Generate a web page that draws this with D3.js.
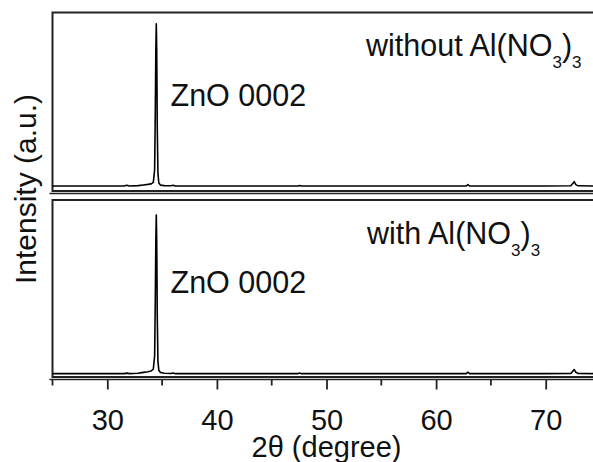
<!DOCTYPE html>
<html>
<head>
<meta charset="utf-8">
<script src="https://cdn.jsdelivr.net/npm/d3@7"></script>
<style>
    body { margin: 0; background: #fff; }
    svg { display: block; }
    text { font-family: "Liberation Sans", Arial, sans-serif; fill: #111; }
</style>
</head>
<body>
<div id="xrd"></div>
<script>
// 2theta positions (degree) shared by both patterns
const twoTheta = [25, 28, 31.5, 31.8, 32.0, 32.8, 33.3, 33.7, 34.0, 34.2, 34.32, 34.38, 34.43, 34.47, 34.51, 34.56, 34.62, 34.7, 34.85, 35.2, 35.8, 36.0, 36.2, 40, 47.4, 47.55, 47.7, 55, 62.75, 62.9, 63.05, 70, 72.3, 72.45, 72.6, 72.75, 72.95, 75]

// intensities (a.u.)
const withoutAl = [.028, .028, .028, .032, .028, .030, .034, .037, .040, .048, .12, .45, .80, .936, .78, .35, .10, .045, .033, .030, .029, .032, .028, .028, .028, .031, .028, .028, .028, .036, .028, .028, .029, .040, .052, .036, .029, .028]
const withAl = [.019, .019, .019, .022, .019, .021, .026, .030, .034, .045, .12, .44, .78, .915, .76, .34, .09, .038, .025, .021, .020, .023, .019, .019, .019, .022, .019, .019, .019, .027, .019, .019, .020, .031, .042, .027, .020, .019]

const majorTicks = [30, 40, 50, 60, 70]
const minorTicks = [25, 35, 45, 55, 65, 75]

const panels = [
    { values: withoutAl, label: "without Al(NO", peakLabel: "ZnO 0002" },
    { values: withAl, label: "with Al(NO", peakLabel: "ZnO 0002" }
]

const width = 593, height = 462
const margin = ({ top: 12.5, left: 52.5 })
const plotRight = 600.5        // frame runs past the cropped edge
const panelBox = [[12.5, 191], [200, 377]]

const svg = d3.select("#xrd").append("svg")
    .attr("width", width)
    .attr("height", height)

var x = d3.scaleLinear()
    .domain([25, 75])
    .range([margin.left, plotRight])

panels.forEach((p, i) => {
    const [top, bottom] = panelBox[i]
    var y = d3.scaleLinear()
        .domain([0, 1])
        .range([bottom, top])

    // frame
    svg.append("rect")
        .attr("x", margin.left)
        .attr("y", top)
        .attr("width", plotRight - margin.left)
        .attr("height", bottom - top)
        .attr("fill", "none")
        .attr("stroke", "#222")
        .attr("stroke-width", 2)

    // bottom axis sits just under the frame
    const last = i === panels.length - 1
    const axis = svg.append("g")
        .attr("transform", `translate(0,${bottom + 2.5})`)
        .call(d3.axisBottom(x).tickValues(last ? majorTicks : []).tickSize(10).tickSizeOuter(0).tickFormat(d3.format("d")))
        .call(g => g.select(".domain").attr("stroke", "#222").attr("stroke-width", 1.6).attr("d", `M${margin.left - 3},0H${plotRight}`))
        .call(g => g.selectAll(".tick line").attr("stroke", "#222").attr("stroke-width", 1.8))
        .call(g => g.selectAll(".tick text")
            .attr("y", 50).attr("dy", 0)
            .style("font-size", "29px")
            .style("font-family", "'Liberation Sans', Arial, sans-serif")
            .attr("fill", "#111"))

    if (last) {
        axis.selectAll(".minor")
            .data(minorTicks)
            .enter()
            .append("line")
            .attr("class", "minor")
            .attr("x1", d => x(d))
            .attr("x2", d => x(d))
            .attr("y1", 0)
            .attr("y2", 6)
            .attr("stroke", "#222")
            .attr("stroke-width", 1.8)
    }

    // pattern
    var line = d3.line()
        .x((d, j) => x(twoTheta[j]))
        .y(d => y(d))
    svg.append("path")
        .datum(p.values)
        .attr("fill", "none")
        .attr("stroke", "#000")
        .attr("stroke-width", 1.6)
        .attr("stroke-linejoin", "round")
        .attr("d", line)

    // annotations
    svg.append("text")
        .attr("x", 170.5)
        .attr("y", top + 93)
        .style("font-size", "30.5px")
        .text(p.peakLabel)

    var lbl = svg.append("text")
        .attr("x", i === 0 ? 366 : 367)
        .attr("y", top + 43.5)
        .style("font-size", "30.5px")
        .text(p.label)
    lbl.append("tspan").attr("dy", 12).style("font-size", "17px").text("3")
    lbl.append("tspan").attr("dy", -12).text(")")
    lbl.append("tspan").attr("dy", 12).style("font-size", "17px").text("3")
})

// axis titles
svg.append("text")
    .attr("x", (margin.left + plotRight) / 2)
    .attr("y", 457)
    .attr("text-anchor", "middle")
    .style("font-size", "29px")
    .text("2θ (degree)")

svg.append("text")
    .attr("transform", "translate(36,189) rotate(-90)")
    .attr("text-anchor", "middle")
    .style("font-size", "30px")
    .text("Intensity (a.u.)")
</script>
</body>
</html>
